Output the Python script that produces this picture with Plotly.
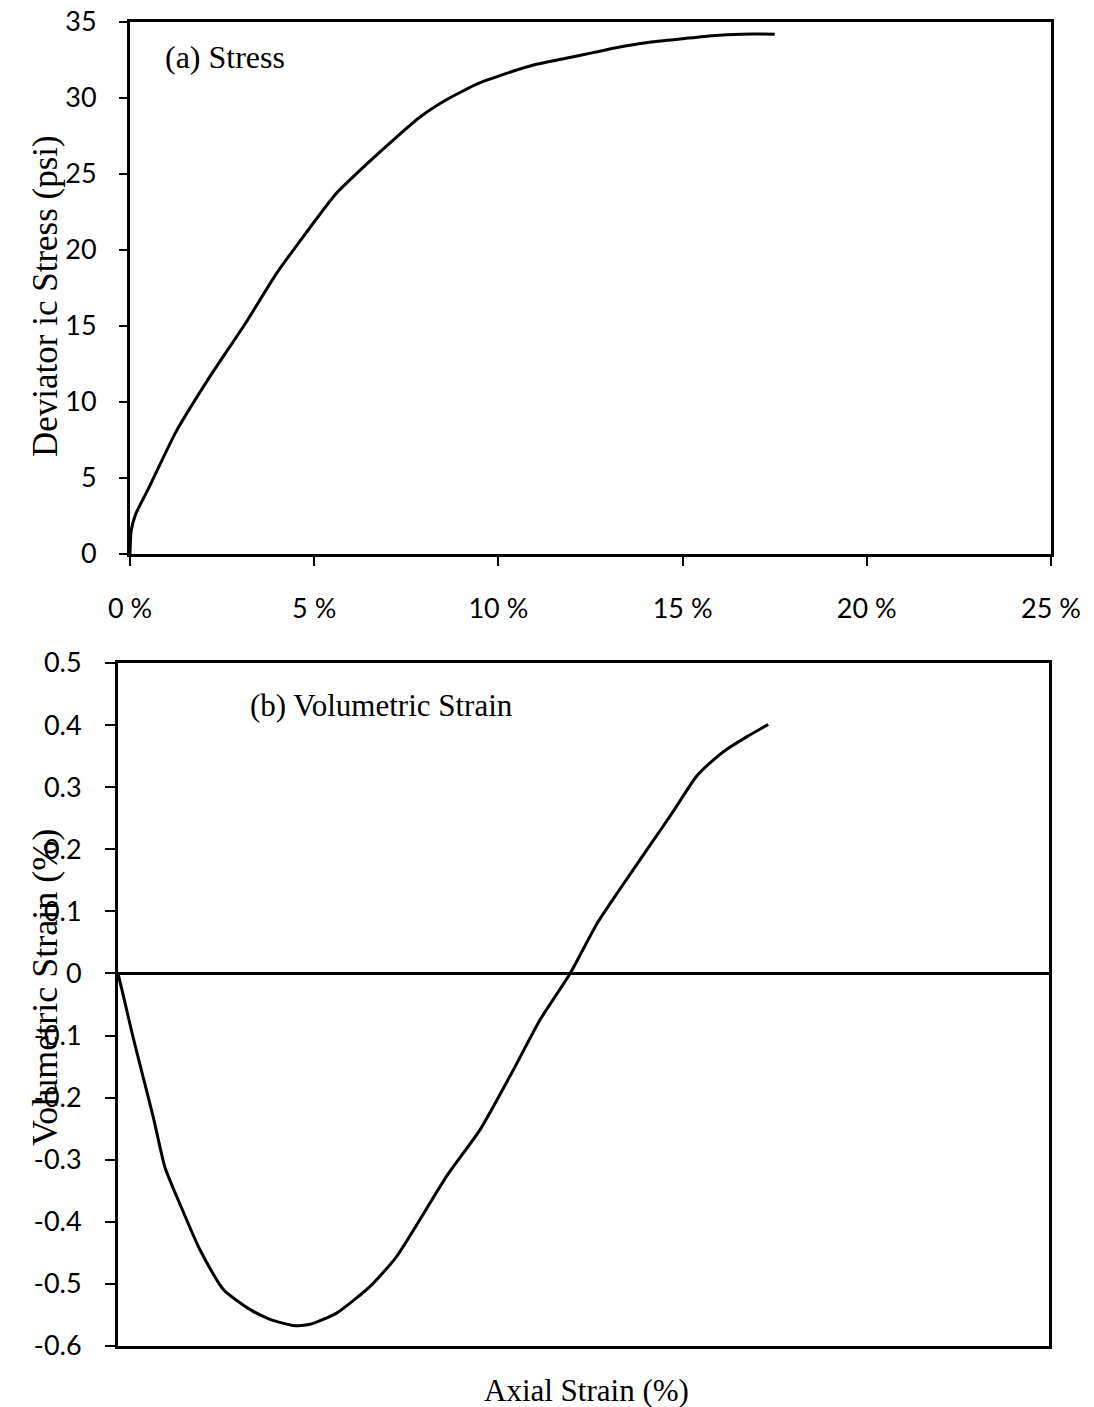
import plotly.graph_objects as go

# Top panel: deviatoric stress vs axial strain
stress_strain = [0, 0.03, 0.15, 0.52, 1.24, 2.15, 3.14, 3.96, 4.77, 5.59, 6.40, 7.22,
                 7.9, 8.6, 9.4, 10.2, 11.0, 11.8, 12.6, 13.4, 14.2, 15.0, 15.8, 16.6, 17.5]
stress_psi = [0, 1.5, 2.6, 4.4, 8.0, 11.6, 15.2, 18.4, 21.1, 23.7, 25.6, 27.4,
              28.8, 29.9, 30.9, 31.6, 32.2, 32.6, 33.0, 33.4, 33.7, 33.9, 34.1, 34.2, 34.2]

# Bottom panel: volumetric strain vs axial strain
vol_axial = [0, 0.14, 0.41, 0.68, 0.95, 1.26, 1.66, 2.20, 2.83, 3.54, 4.08, 4.71, 5.16,
             5.87, 6.77, 7.48, 8.83, 9.72, 10.62, 11.33, 12.14, 12.85, 13.48, 14.2,
             14.91, 15.54, 15.99, 16.35, 16.88, 17.46]
vol_strain = [0, -0.035, -0.104, -0.168, -0.232, -0.312, -0.371, -0.445, -0.509, -0.541,
              -0.557, -0.567, -0.565, -0.547, -0.504, -0.456, -0.326, -0.252, -0.155,
              -0.075, 0.0, 0.079, 0.136, 0.199, 0.261, 0.318, 0.344, 0.361, 0.381, 0.401]

x_tickvals = [0, 5, 10, 15, 20, 25]
x_ticktext = ["0 %", "5 %", "10 %", "15 %", "20 %", "25 %"]
y1_tickvals = [0, 5, 10, 15, 20, 25, 30, 35]
y2_tickvals = [0.5, 0.4, 0.3, 0.2, 0.1, 0, -0.1, -0.2, -0.3, -0.4, -0.5, -0.6]
y2_ticktext = ["0.5", "0.4", "0.3", "0.2", "0.1", "0", "-0.1", "-0.2", "-0.3", "-0.4", "-0.5", "-0.6"]

W, H = 1094, 1407
tick_font = dict(family="Lato, Open Sans, sans-serif", size=27, color="black")
serif = "Liberation Serif, Times New Roman, serif"

fig = go.Figure()
fig.add_trace(go.Scatter(x=stress_strain, y=stress_psi, mode="lines",
                         line=dict(color="black", width=3, shape="spline", smoothing=0.5),
                         xaxis="x", yaxis="y", showlegend=False))
fig.add_trace(go.Scatter(x=vol_axial, y=vol_strain, mode="lines",
                         line=dict(color="black", width=3, shape="spline", smoothing=0.6),
                         xaxis="x2", yaxis="y2", showlegend=False))

axis_common = dict(showline=True, linecolor="black", mirror=True, showgrid=False,
                   zeroline=False)

fig.update_layout(
    width=W, height=H,
    margin=dict(l=0, r=0, t=0, b=0),
    paper_bgcolor="white", plot_bgcolor="white",
    xaxis=dict(domain=[130 / W, 1051 / W], anchor="y", range=[0, 25],
               tickvals=x_tickvals, ticktext=x_ticktext, ticks="outside", ticklen=9,
               tickwidth=2, tickcolor="black", tickfont=tick_font, linewidth=3,
               ticklabelstandoff=20, automargin=False, **axis_common),
    yaxis=dict(domain=[1 - 554 / H, 1 - 22 / H], anchor="x", range=[0, 35],
               tickvals=y1_tickvals, ticks="outside", ticklen=8, tickwidth=2,
               tickcolor="black", tickfont=tick_font, linewidth=3,
               ticklabelstandoff=17, automargin=False, **axis_common),
    xaxis2=dict(domain=[118 / W, 1049 / W], anchor="y2", range=[0, 25],
                showticklabels=False, ticks="", linewidth=3, automargin=False,
                **axis_common),
    yaxis2=dict(domain=[1 - 1346 / H, 1 - 663 / H], anchor="x2", range=[-0.6, 0.5],
                tickvals=y2_tickvals, ticktext=y2_ticktext, ticks="outside", ticklen=10,
                tickwidth=2, tickcolor="black", tickfont=tick_font, linewidth=3,
                ticklabelstandoff=18, automargin=False, showline=True, linecolor="black",
                mirror=True, showgrid=False, zeroline=True, zerolinecolor="black",
                zerolinewidth=2.5),
    annotations=[
        dict(text="(a) Stress", xref="paper", yref="paper", x=163 / W, y=1 - 57 / H,
             xanchor="left", yanchor="middle", showarrow=False,
             font=dict(family=serif, size=32, color="black")),
        dict(text="(b) Volumetric Strain", xref="paper", yref="paper", x=248 / W,
             y=1 - 705 / H, xanchor="left", yanchor="middle", showarrow=False,
             font=dict(family=serif, size=31, color="black")),
        dict(text="Deviator ic Stress (psi)", xref="paper", yref="paper", x=45 / W,
             y=1 - 296 / H, xanchor="center", yanchor="middle", textangle=-90,
             showarrow=False, font=dict(family=serif, size=35, color="black")),
        dict(text="Volumetric Strain (%)", xref="paper", yref="paper", x=45 / W,
             y=1 - 988 / H, xanchor="center", yanchor="middle", textangle=-90,
             showarrow=False, font=dict(family=serif, size=36, color="black")),
        dict(text="Axial Strain (%)", xref="paper", yref="paper", x=586 / W,
             y=1 - 1390 / H, xanchor="center", yanchor="middle", showarrow=False,
             font=dict(family=serif, size=31, color="black")),
    ],
)

fig.write_html("out.html")
